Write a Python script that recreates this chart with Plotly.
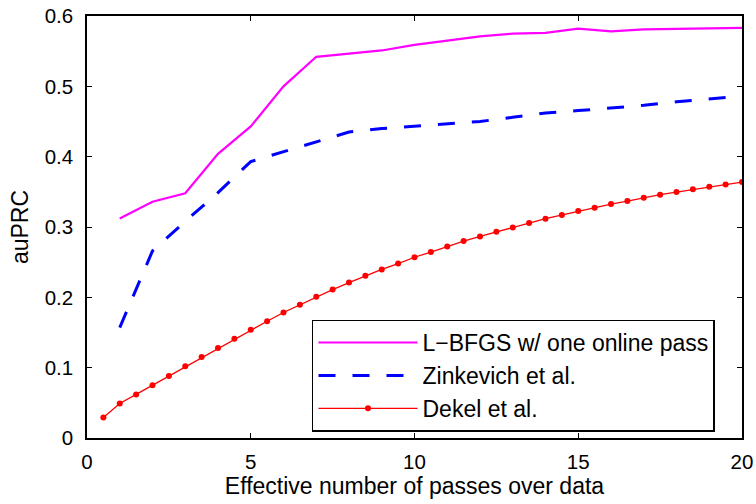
import plotly.graph_objects as go

# L-BFGS w/ one online pass
lbfgs_x = [1, 2, 3, 4, 5, 6, 7, 8, 9, 10, 11, 12, 13, 14, 15, 16, 17, 18, 19, 20]
lbfgs_y = [0.312, 0.336, 0.348, 0.404, 0.443, 0.500, 0.542, 0.546, 0.551, 0.559,
           0.565, 0.571, 0.575, 0.576, 0.582, 0.578, 0.581, 0.582, 0.582, 0.583]

# Zinkevich et al.
zink_x = [1, 2, 3, 4, 5, 6, 7, 8, 9, 10, 11, 12, 13, 14, 15, 16, 17, 18, 19, 20]
zink_y = [0.157, 0.266, 0.308, 0.349, 0.393, 0.407, 0.421, 0.435, 0.440, 0.4435,
          0.447, 0.450, 0.456, 0.462, 0.4655, 0.469, 0.473, 0.478, 0.482, 0.486]

# Dekel et al.
dekel_x = [0.5, 1, 1.5, 2, 2.5, 3, 3.5, 4, 4.5, 5, 5.5, 6, 6.5, 7, 7.5, 8, 8.5, 9, 9.5, 10,
           10.5, 11, 11.5, 12, 12.5, 13, 13.5, 14, 14.5, 15, 15.5, 16, 16.5, 17, 17.5, 18,
           18.5, 19, 19.5, 20]
dekel_y = [0.029, 0.049, 0.062, 0.075, 0.088, 0.102, 0.115, 0.128, 0.141, 0.154,
           0.166, 0.1785, 0.1895, 0.201, 0.211, 0.221, 0.2307, 0.2397, 0.248, 0.257,
           0.2643, 0.2724, 0.280, 0.2866, 0.2933, 0.2994, 0.3056, 0.3118, 0.317, 0.3226,
           0.3274, 0.3326, 0.3368, 0.3416, 0.346, 0.3497, 0.3535, 0.3573, 0.3606, 0.3639]

x_ticks = [0, 5, 10, 15, 20]
y_ticks = [0, 0.1, 0.2, 0.3, 0.4, 0.5, 0.6]
y_tick_labels = ["0", "0.1", "0.2", "0.3", "0.4", "0.5", "0.6"]

FONT = "Liberation Sans, Arial, sans-serif"
TICK_FS = 20.5
TITLE_FS = 23
LEG_FS = 23

fig = go.Figure()
fig.add_trace(go.Scatter(x=lbfgs_x, y=lbfgs_y, mode="lines",
                         name="L\u2212BFGS w/ one online pass",
                         line=dict(color="#ff00ff", width=2.2)))
fig.add_trace(go.Scatter(x=zink_x, y=zink_y, mode="lines",
                         name="Zinkevich et al.",
                         line=dict(color="#0000ff", width=3, dash="17px,17px")))
fig.add_trace(go.Scatter(x=dekel_x, y=dekel_y, mode="lines+markers",
                         name="Dekel et al.",
                         line=dict(color="#ff0000", width=1.3),
                         marker=dict(color="#ff0000", size=6)))

axis_common = dict(
    showline=True, linecolor="black", linewidth=1.5, mirror="ticks",
    ticks="inside", ticklen=5, tickwidth=1, tickcolor="black",
    showgrid=False, zeroline=False, automargin=False,
    tickfont=dict(family=FONT, size=TICK_FS, color="black"),
)

fig.update_layout(
    width=756, height=504,
    margin=dict(l=87, r=14, t=16, b=66, autoexpand=False),
    paper_bgcolor="white", plot_bgcolor="white",
    font=dict(family=FONT, size=TICK_FS, color="black"),
    xaxis=dict(range=[0, 20], tickvals=x_ticks, ticklabelstandoff=5,
               title=dict(text="Effective number of passes over data", standoff=4,
                          font=dict(family=FONT, size=TITLE_FS)),
               **axis_common),
    yaxis=dict(range=[0, 0.6], tickvals=y_ticks, ticktext=y_tick_labels,
               ticklabelstandoff=8,
               title=dict(text="auPRC", standoff=10, font=dict(family=FONT, size=TITLE_FS)),
               **axis_common),
    legend=dict(x=0.3435, xanchor="left", y=0.148, yanchor="middle",
                bgcolor="white", bordercolor="black", borderwidth=1.5,
                font=dict(family=FONT, size=LEG_FS), itemwidth=99,
                tracegroupgap=0),
    showlegend=True,
)

fig.write_html("out.html",
               config={"displayModeBar": False},
               post_script="document.body.style.margin='0';document.body.style.overflow='hidden';")
